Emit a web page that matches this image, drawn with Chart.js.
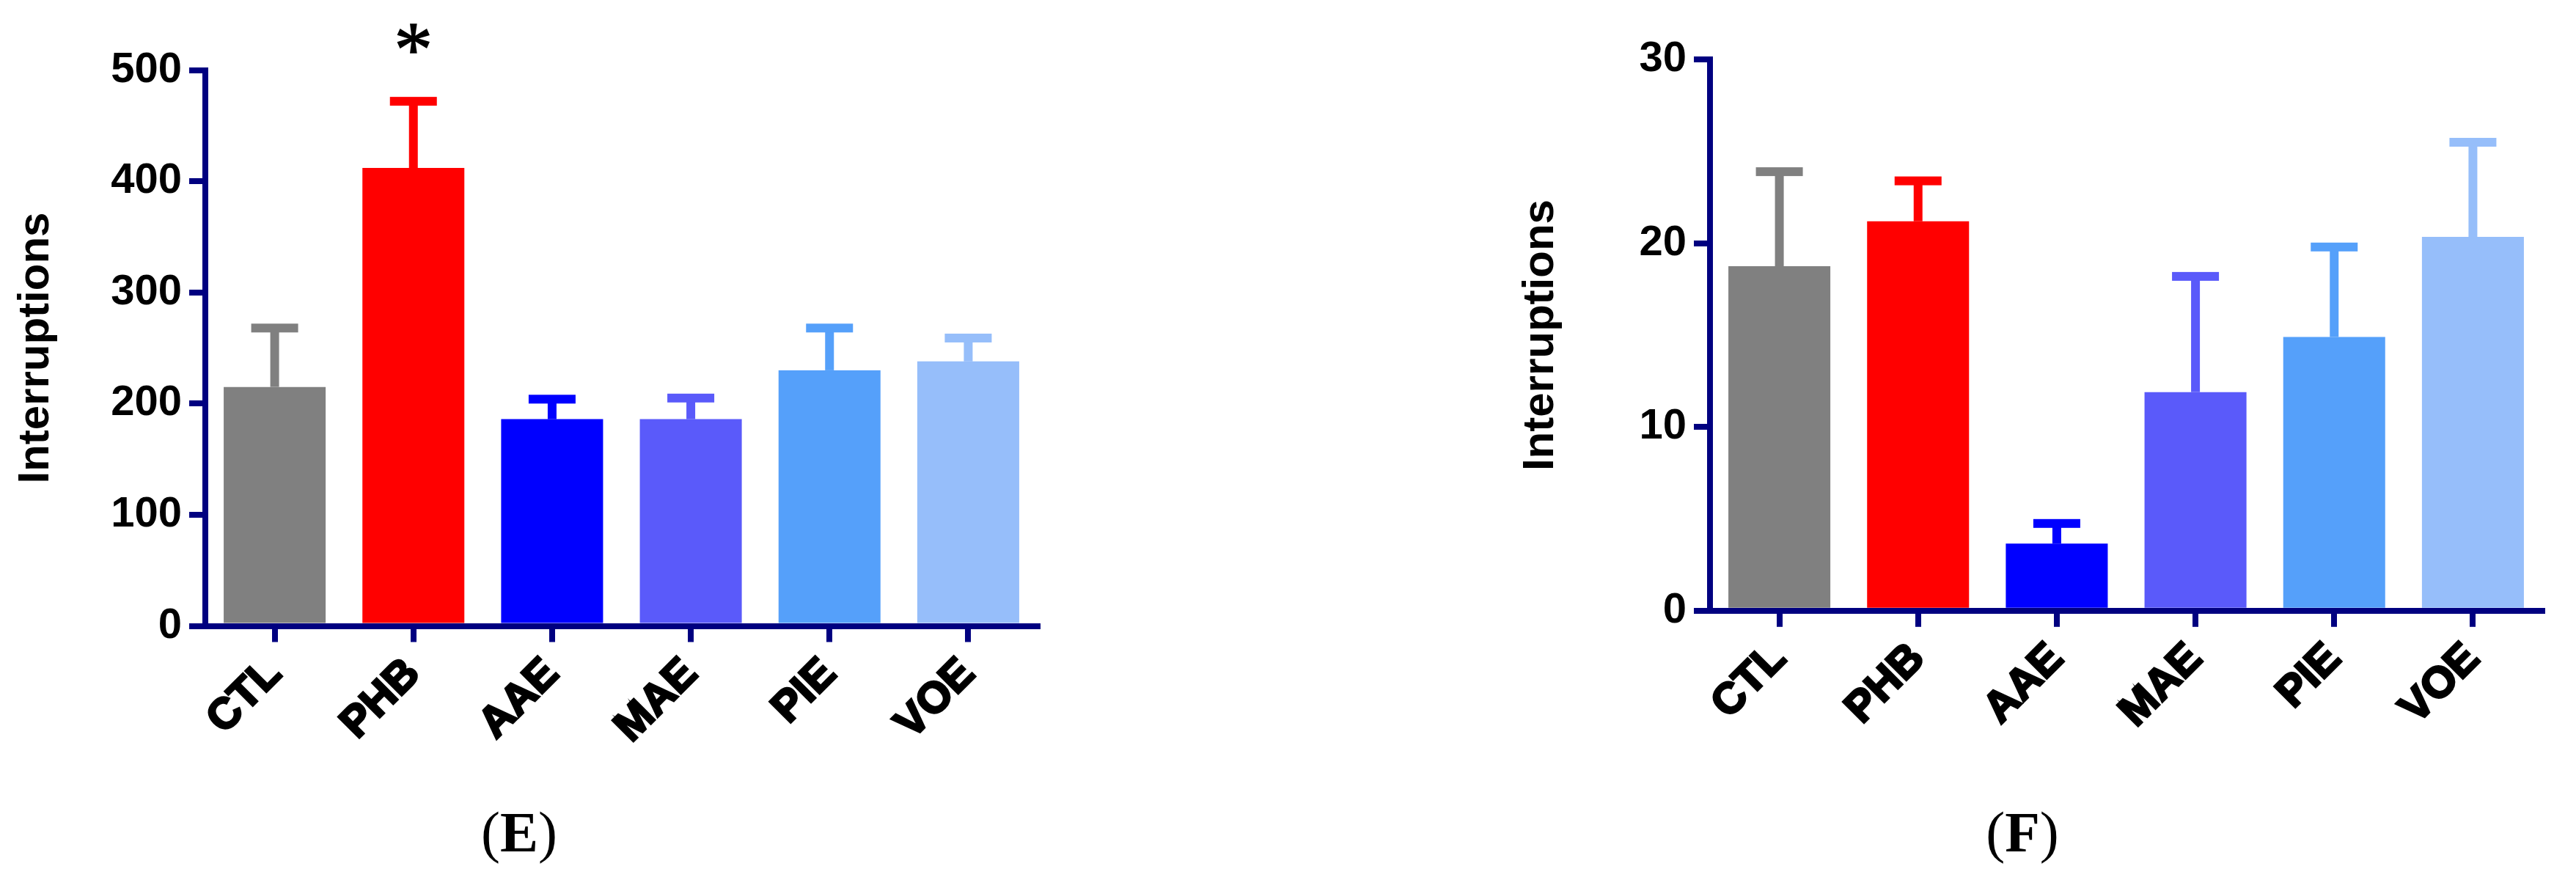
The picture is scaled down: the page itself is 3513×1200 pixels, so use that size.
<!DOCTYPE html>
<html>
<head>
<meta charset="utf-8">
<script src="https://cdn.jsdelivr.net/npm/chart.js@4.4.1/dist/chart.umd.min.js"></script>
<style>
  html, body { margin: 0; padding: 0; background: #fff; }
  body { width: 3513px; height: 1200px; position: relative; overflow: hidden; }
  canvas { position: absolute; top: 0; }
  #chartE { left: 0; }
  #chartF { left: 2052px; }
  .panel { position: absolute; font-family: "Liberation Serif", serif; font-size: 78px; line-height: 1; transform: translateX(-50%); white-space: nowrap; }
</style>
</head>
<body>
<canvas id="chartE" width="1450" height="1060"></canvas>
<canvas id="chartF" width="1450" height="1060"></canvas>
<div class="panel" style="left:708px; top:1096px">(<b>E</b>)</div>
<div class="panel" style="left:2758px; top:1096px">(<b>F</b>)</div>
<script>
// groups and colours
const categories = ['CTL', 'PHB', 'AAE', 'MAE', 'PIE', 'VOE'];
const barColors = ['#808080', '#FF0000', '#0000FF', '#5A5AFA', '#55A0FA', '#96BEFA'];

// panel E: mean and SEM
const meanE = [215, 412, 186, 186, 230, 238];
const semE = [53, 60, 18, 19, 38, 21];
const starsE = ['', '*', '', '', '', ''];
const ticksE = [0, 100, 200, 300, 400, 500];

// panel F: mean and SEM
const meanF = [18.75, 21.2, 3.65, 11.9, 14.9, 20.35];
const semF = [5.15, 2.2, 1.1, 6.3, 4.9, 5.15];
const starsF = ['', '', '', '', '', ''];
const ticksF = [0, 10, 20, 30];

const navy = '#000080';
const H = 1060;

// error bars (mean + SEM) and significance stars
const errorBars = {
    id: 'errorBars',
    afterDatasetsDraw(chart, args, opts) {
        const ctx = chart.ctx;
        const y = chart.scales.y;
        const ds = chart.data.datasets[0];
        chart.getDatasetMeta(0).data.forEach((bar, i) => {
            const top = y.getPixelForValue(ds.data[i] + opts.sem[i]);
            ctx.save();
            ctx.fillStyle = ds.backgroundColor[i];
            ctx.fillRect(bar.x - 6, top, 12, bar.y - top);
            ctx.fillRect(bar.x - 32, top - 6, 64, 12);
            if (opts.stars[i]) {
                ctx.fillStyle = '#000';
                ctx.strokeStyle = '#000';
                ctx.lineWidth = 1.5;
                ctx.font = '105px "Liberation Serif"';
                ctx.textAlign = 'center';
                ctx.textBaseline = 'alphabetic';
                ctx.fillText(opts.stars[i], bar.x, top - 35);
                ctx.strokeText(opts.stars[i], bar.x, top - 35);
            }
            ctx.restore();
        });
    }
};

function makeChart(id, mean, sem, stars, ticks, padTop, bottom) {
    return new Chart(document.getElementById(id), {
        type: 'bar',
        data: {
            labels: categories,
            datasets: [{
                data: mean,
                backgroundColor: barColors,
                categoryPercentage: 1,
                barPercentage: 0.735
            }]
        },
        plugins: [errorBars],
        options: {
            responsive: false,
            animation: false,
            devicePixelRatio: 1,
            layout: { padding: { top: padTop, right: 35, left: 0, bottom: 0 } },
            plugins: {
                legend: { display: false },
                tooltip: { enabled: false },
                errorBars: { sem: sem, stars: stars }
            },
            scales: {
                x: {
                    grid: {
                        offset: false,
                        drawOnChartArea: false,
                        color: navy,
                        lineWidth: 8,
                        tickWidth: 8,
                        tickColor: navy,
                        tickLength: 22
                    },
                    border: { color: navy, width: 8 },
                    ticks: {
                        color: '#000',
                        font: { family: 'Liberation Sans', size: 59, weight: 'bold' },
                        textStrokeColor: '#000',
                        textStrokeWidth: 3,
                        minRotation: 45,
                        maxRotation: 45,
                        autoSkip: false,
                        padding: 9
                    },
                    afterFit: s => { s.height = H - bottom; }
                },
                y: {
                    min: ticks[0],
                    max: ticks[ticks.length - 1],
                    ticks: {
                        stepSize: ticks[1] - ticks[0],
                        color: '#000',
                        font: { family: 'Liberation Sans', size: 58, weight: 'bold' },
                        padding: 10
                    },
                    grid: {
                        drawOnChartArea: false,
                        color: navy,
                        lineWidth: 8,
                        tickWidth: 8,
                        tickColor: navy,
                        tickLength: 22
                    },
                    border: { color: navy, width: 8 },
                    title: {
                        display: true,
                        text: 'Interruptions',
                        color: '#000',
                        font: { family: 'Liberation Sans', size: 60, weight: 'bold' },
                        padding: { top: 13, bottom: 0 }
                    },
                    afterFit: s => { s.width = 280; }
                }
            }
        }
    });
}

makeChart('chartE', meanE, semE, starsE, ticksE, 95.7, 853.5);
makeChart('chartF', meanF, semF, starsF, ticksF, 81.3, 832.8);
</script>
</body>
</html>
